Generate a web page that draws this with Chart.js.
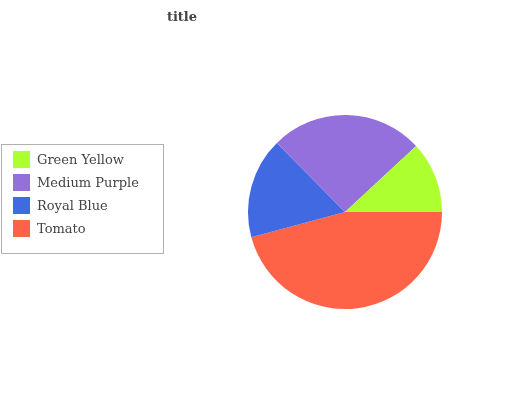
<!DOCTYPE html>
<html><head><meta charset="utf-8">
<script src="https://cdn.jsdelivr.net/npm/chart.js@4"></script>
<style>
html,body{margin:0;padding:0;background:#fff;}
#wrap{position:relative;width:532px;height:400px;}
canvas{position:absolute;left:0;top:0;}
#title{position:absolute;left:132px;width:100px;top:9px;text-align:center;font:bold 13px "DejaVu Serif",serif;color:#444;}
#legend{position:absolute;left:1px;top:144px;width:163px;height:110px;border:1px solid #b0b0b0;box-sizing:border-box;font:13px "DejaVu Serif",serif;color:#444;}
.row{position:absolute;left:11px;height:17px;line-height:17px;}
.sw{display:inline-block;width:17px;height:17px;vertical-align:top;margin-right:7px;}
</style></head><body>
<div id="wrap"><canvas id="c" width="532" height="400"></canvas>
<div id="title">title</div>
<div id="legend"></div></div>
<script>
const categories = ["Green Yellow","Medium Purple","Royal Blue","Tomato"];
const values = [11.9, 25.5, 16.8, 45.8];
const colors = ["#adff2f","#9370db","#4169e1","#ff6347"];

// legend (HTML)
const lg = document.getElementById('legend');
categories.forEach((c,i)=>{
  const r = document.createElement('div');
  r.className='row'; r.style.top=(6+i*23)+'px';
  r.innerHTML='<span class="sw" style="background:'+colors[i]+'"></span>'+c;
  lg.appendChild(r);
});

// slices drawn counter-clockwise from 3 o'clock => reverse order clockwise
const labs = categories.slice().reverse();
const vals = values.slice().reverse();
const cols = colors.slice().reverse();
new Chart(document.getElementById('c'),{
  type:'pie',
  data:{labels:labs,datasets:[{data:vals,backgroundColor:cols,borderWidth:0}]},
  options:{
    responsive:false,animation:false,rotation:90,
    layout:{padding:{left:248,right:90,top:115,bottom:91}},
    plugins:{legend:{display:false},tooltip:{enabled:false},title:{display:false}}
  }
});
</script></body></html>
